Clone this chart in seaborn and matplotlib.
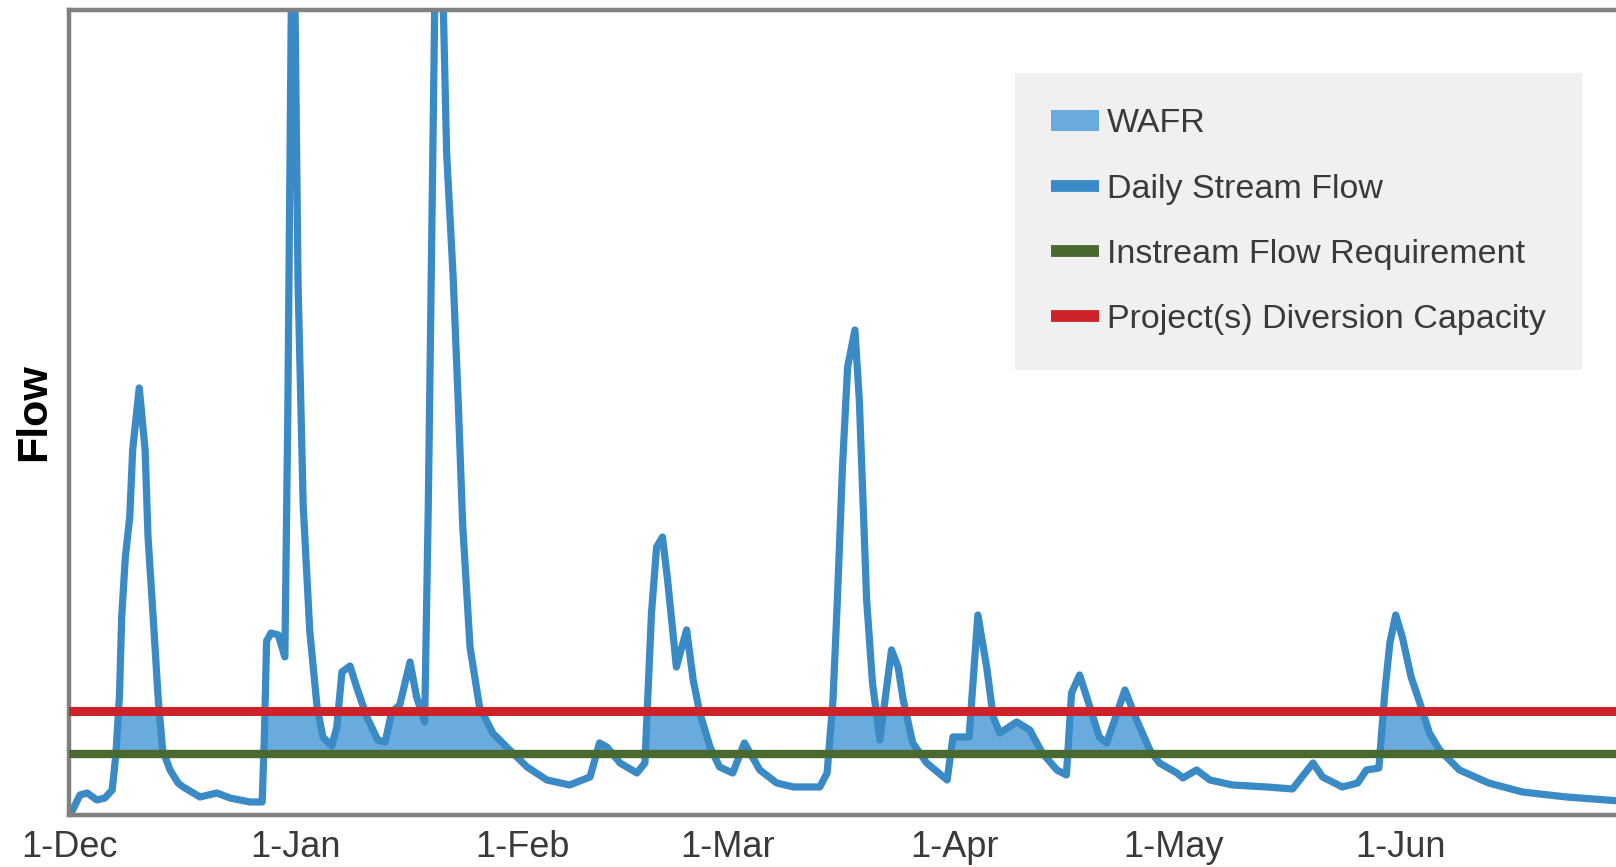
import numpy as np
import matplotlib
matplotlib.use("Agg")
from matplotlib import pyplot as plt
from matplotlib.patches import Rectangle, Patch
from matplotlib.lines import Line2D
import seaborn as sns

sns.set_style("white")
plt.rcParams['font.family'] = ['Liberation Sans', 'DejaVu Sans']

# days since 1-Dec, daily stream flow (arbitrary units)
days = [0, 0.5, 1.5, 2.5, 3.8, 4.9, 5.9, 6.4, 6.9, 7.2, 7.7, 8.3, 8.7, 9.6, 10.4, 10.8,
        11.5, 12.2, 12.8, 13.8, 14.9, 15.6, 17.9, 20.2, 22.0, 24.7, 26.4, 26.7, 27.0,
        27.6, 28.6, 29.5, 29.9, 30.6, 31.3, 32.0, 32.9, 33.9, 34.7, 35.9, 36.6, 37.3,
        38.4, 39.3, 40.7, 42.2, 43.2, 44.1, 45.2, 46.6, 47.5, 48.6, 49.1, 50.4, 51.6,
        52.5, 53.2, 53.8, 54.8, 56.1, 57.9, 59.8, 62.6, 65.3, 68.4, 71.2, 72.5, 73.5,
        75.3, 77.6, 78.7, 79.6, 80.3, 81.1, 81.8, 83.0, 84.4, 85.3, 86.2, 87.6, 88.9,
        90.7, 92.3, 94.4, 96.7, 99.0, 102.6, 103.6, 104.4, 105.0, 105.7, 106.4, 107.4,
        108.0, 108.5, 109.0, 109.8, 110.8, 112.4, 113.3, 114.0, 115.3, 117.2, 120.0,
        120.8, 121.7, 123.0, 124.2, 125.4, 126.3, 127.2, 129.5, 131.3, 133.0, 135.0,
        136.3, 137.0, 138.1, 139.2, 140.8, 141.8, 144.3, 145.9, 147.7, 149.0, 151.4,
        152.2, 154.1, 155.9, 159.0, 163.7, 167.2, 170.0, 171.3, 174.0, 176.1, 177.3,
        179.0, 179.8, 180.5, 181.3, 182.2, 183.4, 184.6, 185.9, 187.3, 190.0, 194.0,
        198.6, 204.6, 210.0, 212.0]
flow = [3, 5, 20, 22, 15, 17, 25, 60, 120, 198, 258, 298, 365, 427, 365, 278,
        198, 115, 65, 45, 32, 28, 18, 22, 17, 13, 13, 80, 174,
        182, 180, 158, 400, 1000, 532, 310, 184, 108, 78, 69, 88, 143,
        149, 128, 98, 75, 73, 103, 110, 153, 118, 93, 310, 1050, 663,
        537, 411, 290, 168, 108, 82, 68, 48, 35, 30, 38, 72, 68,
        52, 42, 52, 202, 268, 278, 235, 148, 185, 135, 102, 68, 48,
        42, 72, 45, 32, 28, 28, 42, 115, 215, 348, 448, 485,
        415, 315, 215, 132, 75, 165, 148, 115, 72, 52, 35,
        78, 78, 78, 200, 148, 98, 82, 93, 85, 62, 45,
        40, 122, 140, 115, 78, 72, 125, 95, 65, 52, 42,
        37, 45, 35, 30, 28, 26, 52, 38, 28, 32, 45,
        47, 122, 172, 200, 178, 138, 112, 82, 65, 45, 32,
        23, 18, 15, 14]

instream_req = 61
diversion_cap = 104

month_starts = [0, 31, 62, 90, 121, 151, 182]
month_labels = ['1-Dec', '1-Jan', '1-Feb', '1-Mar', '1-Apr', '1-May', '1-Jun']

c_fill = '#6aabdd'
c_line = '#3a8ac6'
c_green = '#4a6930'
c_red = '#cc2229'

fig = plt.figure(figsize=(16.16, 8.67), dpi=100)
ax = fig.add_axes([0.0427, 0.06, 0.960, 0.9285])

# WAFR: flow between the instream requirement and the diversion capacity
wafr = ax.fill_between(days, 0, flow, color=c_fill, lw=0, zorder=1)
band = Rectangle((0, instream_req), 212, diversion_cap - instream_req,
                 transform=ax.transData, facecolor='none', edgecolor='none')
ax.add_patch(band)
wafr.set_clip_path(band)

sns.lineplot(x=days, y=flow, ax=ax, color=c_line, lw=5.2, zorder=2, sort=False,
             solid_joinstyle='round')
ax.axhline(instream_req, color=c_green, lw=6, zorder=3)
ax.axhline(diversion_cap, color=c_red, lw=6.5, zorder=4)

ax.set_xlim(0, 212)
ax.set_ylim(0, 805)
ax.set_yticks([])
ax.set_xticks(month_starts)
ax.set_xticklabels(month_labels)
ax.tick_params(axis='x', direction='in', length=6, width=2.2, color='black',
               pad=11, labelsize=26, labelcolor='#3a3a3a')
ax.xaxis.get_major_ticks()[0].tick1line.set_visible(False)

for side in ['left', 'bottom', 'top']:
    ax.spines[side].set_color('#808080')
    ax.spines[side].set_linewidth(3.2)
ax.spines['right'].set_visible(False)

ax.set_ylabel('Flow', fontsize=31, fontweight='bold', color='black', labelpad=11)

handles = [Patch(facecolor=c_fill, edgecolor='none'),
           Line2D([], [], color=c_line, lw=8.5, solid_capstyle='butt'),
           Line2D([], [], color=c_green, lw=8.5, solid_capstyle='butt'),
           Line2D([], [], color=c_red, lw=8.5, solid_capstyle='butt')]
labels = ['WAFR', 'Daily Stream Flow', 'Instream Flow Requirement',
          "Project(s) Diversion Capacity"]
leg = ax.legend(handles, labels, loc='upper left', bbox_to_anchor=(0.610, 0.922),
                borderaxespad=0, fontsize=24.5, frameon=True, fancybox=False,
                facecolor='#f0f0f0', edgecolor='none', framealpha=1,
                handlelength=1.4, handleheight=0.6, handletextpad=0.25,
                labelspacing=1.0, borderpad=1.05)
for t in leg.get_texts():
    t.set_color('#3a3a3a')

fig.savefig('out.png', dpi=100)
